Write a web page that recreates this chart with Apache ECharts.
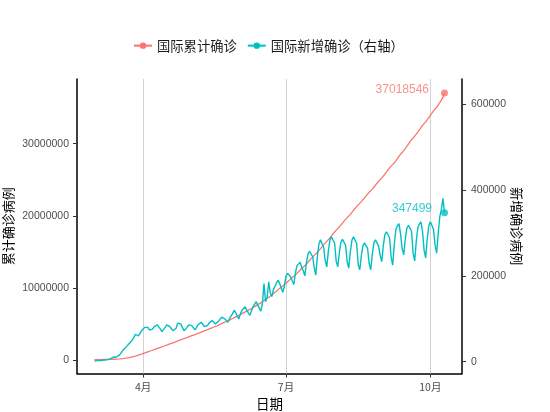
<!DOCTYPE html>
<html><head><meta charset="utf-8">
<script src="https://cdn.jsdelivr.net/npm/echarts@6/dist/echarts.min.js"></script>
<style>html,body{margin:0;padding:0;background:#fff}#c{width:550px;height:412px}</style>
</head><body><div id="c"></div>
<script>
// ---- data (daily, starting 2020-03-01) ----
const startDate = '2020-03-01';
const seriesNames = ['国际累计确诊', '国际新增确诊（右轴）'];
const cumulative = [
 88000,90000,93000,95000,98000,102000,106000,110000,114000,119000,126000,134000,146000,157000,168000,182000,198000,218000,244000,275000,305000,337000,379000,418000,467000,529000,593000,660000,720000,782000,857000,
 932000,1013000,1095000,1176000,1249000,1321000,1396000,1475000,1559000,1640000,1724000,1800000,1871000,1945000,2024000,2110000,2195000,2278000,2353000,2425000,2501000,2579000,2666000,2760000,2850000,2927000,2998000,3074000,3154000,3240000,
 3326000,3410000,3490000,3564000,3642000,3728000,3818000,3910000,3998000,4080000,4158000,4242000,4330000,4424000,4520000,4612000,4692000,4778000,4872000,4970000,5074000,5180000,5280000,5376000,5468000,5564000,5670000,5782000,5902000,6022000,6132000,
 6232000,6342000,6462000,6586000,6714000,6834000,6948000,7056000,7174000,7302000,7436000,7576000,7708000,7836000,7954000,8090000,8272000,8412000,8562000,8748000,8908000,9060000,9228000,9404000,9588000,9778000,9960000,10132000,10294000,10480000,
 10660000,10860000,11068000,11266000,11452000,11630000,11826000,12040000,12264000,12496000,12718000,12918000,13118000,13342000,13578000,13826000,14084000,14330000,14532000,14734000,14954000,15200000,15466000,15738000,16018000,16244000,16466000,16704000,16962000,17242000,17530000,
 17804000,18024000,18244000,18470000,18720000,18992000,19274000,19540000,19756000,19974000,20210000,20466000,20752000,21044000,21312000,21526000,21740000,21974000,22228000,22496000,22776000,23046000,23262000,23476000,23712000,23966000,24242000,24526000,24794000,25024000,25258000,
 25508000,25776000,26062000,26362000,26644000,26870000,27096000,27346000,27622000,27918000,28240000,28540000,28790000,29040000,29320000,29618000,29928000,30250000,30560000,30800000,31036000,31300000,31590000,31906000,32228000,32534000,32780000,33024000,33300000,33600000,
 33914000,34240000,34540000,34790000,35044000,35340000,35678000,36030000,36410000,37018546
];
const newCases = [
 1800,2000,2400,2200,2700,3600,3900,
 3800,4200,4800,6600,7500,10500,11200,
 11000,14000,16000,20000,26000,30000,34000,
 32000,42000,39000,50000,56000,64000,66000,
 60000,62000,72000,74000,80000,82000,80000,
 74000,70000,76000,82000,84000,86000,90000,
 76000,70000,72000,80000,86000,84000,82000,
 78000,72000,76000,78000,90000,94000,88000,
 80000,72000,76000,80000,86000,90000,84000,
 80000,74000,78000,86000,90000,92000,88000,
 82000,78000,84000,90000,94000,96000,92000,
 88000,86000,94000,98000,104000,106000,100000,
 96000,92000,100000,106000,112000,120000,114000,
 106000,100000,112000,120000,124000,128000,120000,
 114000,108000,118000,128000,134000,140000,132000,
 128000,118000,136000,182000,140000,150000,186000,
 160000,152000,168000,176000,184000,190000,182000,
 172000,162000,176000,200000,206000,210000,198000,
 188000,180000,206000,224000,228000,232000,220000,
 212000,200000,230000,251000,257000,260000,245000,
 219000,202000,245000,275000,284000,288000,266000,
 236000,221000,258000,284000,291000,295000,276000,
 234000,221000,254000,278000,285000,288000,271000,
 233000,218000,256000,283000,291000,295000,276000,
 227000,214000,247000,270000,277000,280000,264000,
 229000,214000,251000,277000,284000,288000,270000,
 248000,233000,270000,296000,303000,307000,289000,
 244000,225000,273000,307000,317000,322000,298000,
 264000,249000,285000,311000,318000,322000,304000,
 253000,235000,280000,312000,321000,326000,303000,
 260000,242000,286000,317000,326000,330000,308000,
 272000,253000,300000,338000,355000,381000,347499
];
const monthTicks = ['2020-04-01', '2020-07-01', '2020-10-01'];
const leftTicks = [0, 10000000, 20000000, 30000000];
const rightTicks = [0, 200000, 400000, 600000];

// ---- build ----
function toTime(s, add) { const p = s.split('-').map(Number); return new Date(p[0], p[1] - 1, p[2] + (add || 0)).getTime(); }
const dates = cumulative.map((_, i) => toTime(startDate, i));
const n = dates.length;
const span = dates[n - 1] - dates[0];
const xMin = dates[0] - span * 0.05, xMax = dates[n - 1] + span * 0.05;
const tickTimes = monthTicks.map(s => toTime(s));
const red = '#F8766D', teal = '#00BFC4';
const font = "'Liberation Sans','Noto Sans CJK SC',sans-serif";
const cjk = "'Noto Sans CJK SC',sans-serif";

const chart = echarts.init(document.getElementById('c'), null, {renderer: 'canvas'});
const yAxisCommon = {
  type: 'value', splitLine: {show: false},
  axisLine: {show: true, lineStyle: {color: '#000', width: 1.5}},
  axisTick: {show: true, length: 4, lineStyle: {color: '#333'}},
  nameLocation: 'middle', nameMoveOverlap: false,
  nameTextStyle: {fontSize: 13, color: '#000', fontFamily: cjk}
};
chart.setOption({
  animation: false,
  textStyle: {fontFamily: font},
  legend: {
    data: seriesNames, top: 34, left: 128, itemWidth: 18, itemHeight: 8, itemGap: 10,
    textStyle: {fontSize: 13.3, color: '#1a1a1a', fontFamily: cjk}
  },
  grid: {left: 77, right: 88, top: 79, bottom: 38.5, containLabel: false, outerBoundsMode: 'none'},
  xAxis: {
    type: 'value', min: xMin, max: xMax, scale: true,
    name: '日期', nameLocation: 'middle', nameGap: 24, nameMoveOverlap: false,
    nameTextStyle: {fontSize: 13.5, color: '#000', fontFamily: cjk},
    axisLine: {show: true, onZero: false, lineStyle: {color: '#000', width: 1.5}},
    axisTick: {show: true, customValues: tickTimes, length: 4, lineStyle: {color: '#333'}},
    axisLabel: {customValues: tickTimes, formatter: v => (new Date(v).getMonth() + 1) + '月', color: '#4D4D4D', fontSize: 10.5, margin: 8, fontFamily: cjk},
    splitLine: {show: false}
  },
  yAxis: [
    Object.assign({}, yAxisCommon, {
      position: 'left', min: -1830000, max: 38960000,
      name: '累计确诊病例', nameRotate: 90, nameGap: 62,
      axisTick: Object.assign({}, yAxisCommon.axisTick, {customValues: leftTicks}),
      axisLabel: {customValues: leftTicks, formatter: v => String(v), color: '#4D4D4D', fontSize: 10.5, margin: 8}
    }),
    Object.assign({}, yAxisCommon, {
      position: 'right', min: -27500, max: 659000,
      name: '新增确诊病例', nameRotate: -90, nameGap: 48,
      axisTick: Object.assign({}, yAxisCommon.axisTick, {customValues: rightTicks}),
      axisLabel: {customValues: rightTicks, formatter: v => String(v), color: '#4D4D4D', fontSize: 10.5, margin: 9}
    })
  ],
  series: [
    {
      name: '_grid', type: 'line', data: [], z: 1,
      markLine: {
        silent: true, z: 1, symbol: ['none', 'none'], label: {show: false},
        lineStyle: {color: '#D3D3D3', width: 1, type: 'solid'},
        data: tickTimes.map(t => ({xAxis: t}))
      }
    },
    {
      name: seriesNames[0], type: 'line', yAxisIndex: 0, z: 3,
      data: dates.map((d, i) => [d, cumulative[i]]),
      symbol: 'circle', symbolSize: 6, showSymbol: false,
      lineStyle: {color: red, width: 1.3}, itemStyle: {color: red}
    },
    {
      name: seriesNames[1], type: 'line', yAxisIndex: 1, z: 3,
      data: dates.map((d, i) => [d, newCases[i]]),
      symbol: 'circle', symbolSize: 6, showSymbol: false,
      lineStyle: {color: teal, width: 1.4}, itemStyle: {color: teal}
    },
    {
      name: '_endRed', type: 'scatter', yAxisIndex: 0, z: 4, symbolSize: 7,
      itemStyle: {color: red},
      data: [[dates[n - 1], cumulative[n - 1]]],
      label: {show: true, position: 'left', distance: 12, offset: [0, -3], color: red, fontSize: 12, formatter: p => String(p.value[1])}
    },
    {
      name: '_endTeal', type: 'scatter', yAxisIndex: 1, z: 4, symbolSize: 7,
      itemStyle: {color: teal},
      data: [[dates[n - 1], newCases[n - 1]]],
      label: {show: true, position: 'left', distance: 9, offset: [0, -4], color: teal, fontSize: 12, formatter: p => String(p.value[1])}
    }
  ]
});
</script>
</body></html>
